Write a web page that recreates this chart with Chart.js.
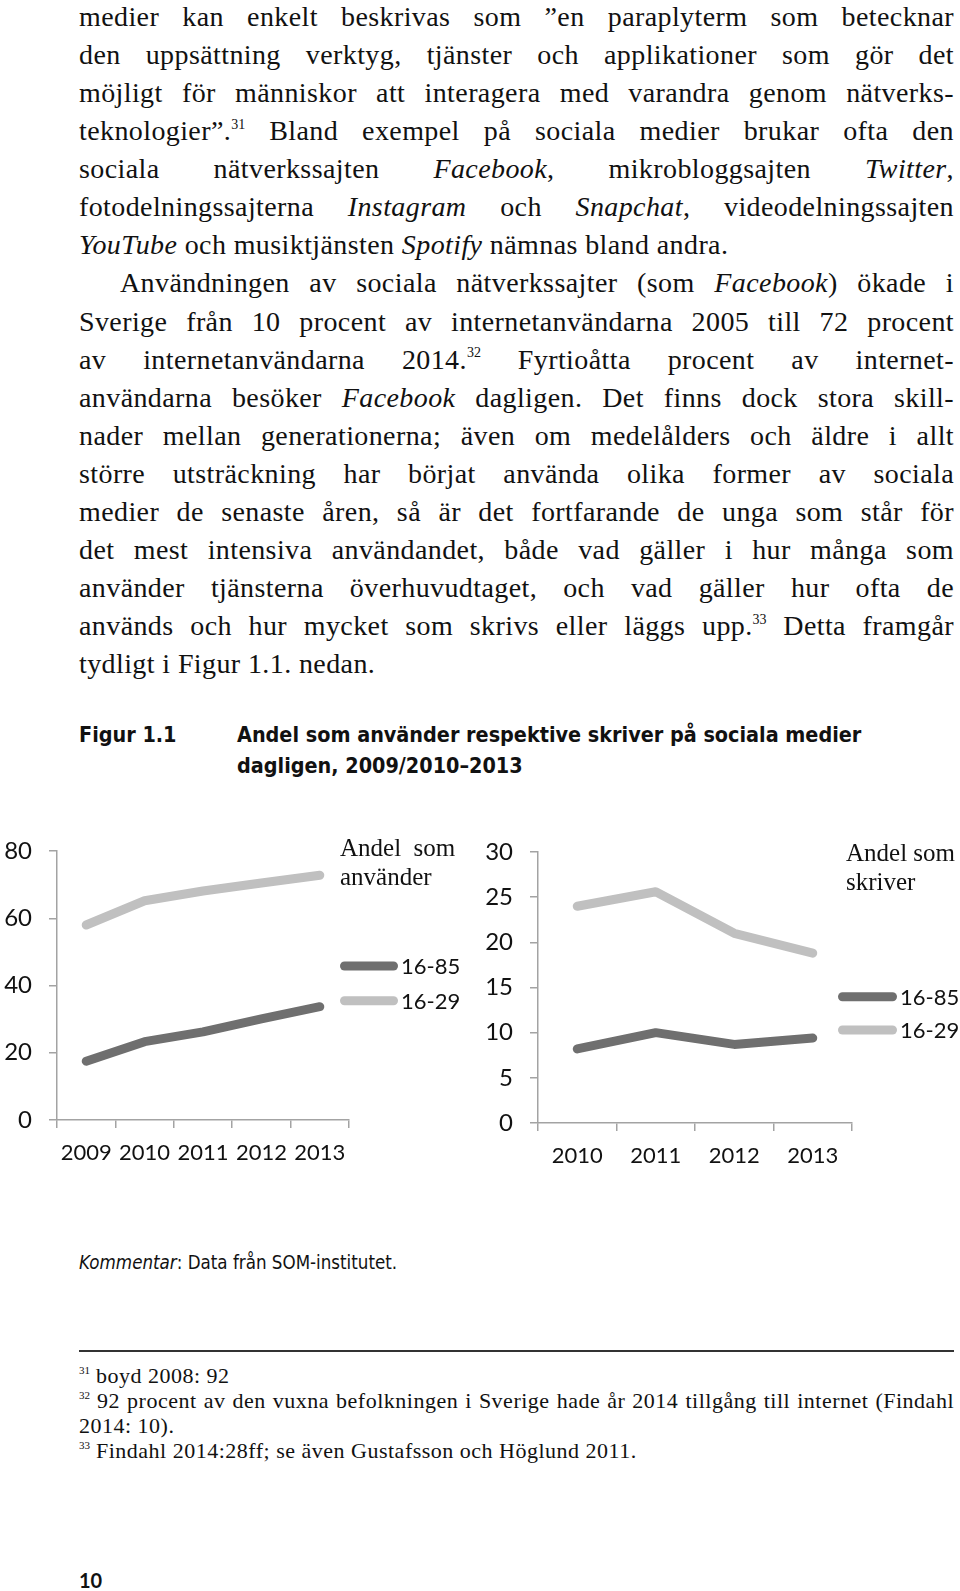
<!DOCTYPE html>
<html lang="sv">
<head>
<meta charset="UTF-8">
<title>Figur 1.1</title>
<script src="https://cdn.jsdelivr.net/npm/chart.js"></script>
<style>
  html, body { margin: 0; padding: 0; background: #fff; }
  body { width: 960px; height: 1591px; position: relative; overflow: hidden; color: #111; }
  .text { position: absolute; left: 79px; width: 875px; font-family: "Liberation Serif", serif; }
  .main { top: -2px; font-size: 28px; letter-spacing: 0.4px; line-height: 38.06px; }
  .l { text-align: justify; text-align-last: justify; }
  .l.last { text-align-last: left; }
  .ind { padding-left: 41px; }
  sup { font-size: 0.5em; line-height: 0; vertical-align: 0; position: relative; top: -0.8em; letter-spacing: 0; }
  .cap { position: absolute; font-family: "DejaVu Sans Condensed", "DejaVu Sans", sans-serif; font-weight: bold; font-size: 21.4px; line-height: 31px; top: 719px; }
  .comment { position: absolute; left: 79px; top: 1251px; font-family: "DejaVu Sans Condensed", "DejaVu Sans", sans-serif; font-size: 18.6px; line-height: 24px; }
  .rule { position: absolute; left: 79px; width: 875px; top: 1350px; height: 1.5px; background: #333; }
  .notes { top: 1363px; font-size: 22px; letter-spacing: 0.5px; line-height: 25px; }
  .pagenum { position: absolute; left: 79px; top: 1568px; font-family: Lato, sans-serif; font-weight: bold; font-size: 20px; line-height: 24px; }
  .box { position: absolute; top: 810px; height: 370px; }
  .tag { position: absolute; font-family: "Liberation Serif", serif; font-size: 25px; line-height: 29px; color: #111; white-space: pre; }
</style>
</head>
<body>

<div class="text main">
  <div class="l">medier kan enkelt beskrivas som ”en paraplyterm som betecknar</div>
  <div class="l">den uppsättning verktyg, tjänster och applikationer som gör det</div>
  <div class="l">möjligt för människor att interagera med varandra genom nätverks-</div>
  <div class="l">teknologier”.<sup>31</sup> Bland exempel på sociala medier brukar ofta den</div>
  <div class="l">sociala nätverkssajten <i>Facebook</i>, mikrobloggsajten <i>Twitter</i>,</div>
  <div class="l">fotodelningssajterna <i>Instagram</i> och <i>Snapchat</i>, videodelningssajten</div>
  <div class="l last"><i>YouTube</i> och musiktjänsten <i>Spotify</i> nämnas bland andra.</div>
  <div class="l ind">Användningen av sociala nätverkssajter (som <i>Facebook</i>) ökade i</div>
  <div class="l">Sverige från 10 procent av internetanvändarna 2005 till 72 procent</div>
  <div class="l">av internetanvändarna 2014.<sup>32</sup> Fyrtioåtta procent av internet-</div>
  <div class="l">användarna besöker <i>Facebook</i> dagligen. Det finns dock stora skill-</div>
  <div class="l">nader mellan generationerna; även om medelålders och äldre i allt</div>
  <div class="l">större utsträckning har börjat använda olika former av sociala</div>
  <div class="l">medier de senaste åren, så är det fortfarande de unga som står för</div>
  <div class="l">det mest intensiva användandet, både vad gäller i hur många som</div>
  <div class="l">använder tjänsterna överhuvudtaget, och vad gäller hur ofta de</div>
  <div class="l">används och hur mycket som skrivs eller läggs upp.<sup>33</sup> Detta framgår</div>
  <div class="l last">tydligt i Figur 1.1. nedan.</div>
</div>

<div class="cap" style="left:79px">Figur 1.1</div>
<div class="cap" style="left:237px">Andel som använder respektive skriver på sociala medier<br>dagligen, 2009/2010–2013</div>

<div class="box" style="left:0; width:470px"><canvas id="useChart"></canvas></div>
<div class="box" style="left:470px; width:490px"><canvas id="writeChart"></canvas></div>
<div class="tag" style="left:340px; top:833px">Andel  som
använder</div>
<div class="tag" style="left:846px; top:838px">Andel som
skriver</div>

<div class="comment"><i>Kommentar</i>: Data från SOM-institutet.</div>

<div class="rule"></div>
<div class="text notes">
  <div class="l last"><sup>31</sup> boyd 2008: 92</div>
  <div class="l"><sup>32</sup> 92 procent av den vuxna befolkningen i Sverige hade år 2014 tillgång till internet (Findahl</div>
  <div class="l last">2014: 10).</div>
  <div class="l last"><sup>33</sup> Findahl 2014:28ff; se även Gustafsson och Höglund 2011.</div>
</div>

<div class="pagenum">10</div>

<script>
  // left chart: share who use social media daily
  const useYears = ['2009', '2010', '2011', '2012', '2013'];
  const use1685 = [17.5, 23.3, 26.2, 30.1, 33.7];
  const use1629 = [58, 65.2, 68.1, 70.5, 72.8];
  const useMax = 80, useStep = 20;

  // right chart: share who write on social media daily
  const writeYears = ['2010', '2011', '2012', '2013'];
  const write1685 = [8.2, 10, 8.7, 9.4];
  const write1629 = [24, 25.6, 21, 18.8];
  const writeMax = 30, writeStep = 5;

  const seriesNames = ['16-85', '16-29'];
  const darkGrey = '#6f6f6f';
  const lightGrey = '#c0c0c0';
  const axisGrey = '#a3a3a3';

  // squeeze any justified line that would wrap
  document.querySelectorAll('.l').forEach(el => {
    const lh = parseFloat(getComputedStyle(el).lineHeight);
    let ls = parseFloat(getComputedStyle(el).letterSpacing) || 0;
    while (el.scrollHeight > lh * 1.4 && ls > -3) {
      ls -= 0.1;
      el.style.letterSpacing = ls + 'px';
    }
  });

  Chart.defaults.font.family = 'Lato';
  Chart.defaults.color = '#111';

  // legend drawn as thick line samples next to the plot
  const lineLegend = {
    id: 'lineLegend',
    afterDraw(chart, args, opts) {
      const ctx = chart.ctx;
      ctx.save();
      chart.data.datasets.forEach((ds, i) => {
        const y = opts.y + i * opts.gap;
        const half = ds.borderWidth / 2;
        ctx.strokeStyle = ds.borderColor;
        ctx.lineWidth = ds.borderWidth;
        ctx.lineCap = 'round';
        ctx.beginPath();
        ctx.moveTo(opts.x + half, y);
        ctx.lineTo(opts.x + opts.len - half, y);
        ctx.stroke();
        ctx.fillStyle = '#111';
        ctx.font = '22px Lato';
        ctx.textBaseline = 'middle';
        ctx.fillText(ds.label, opts.x + opts.len + 3, y + 1);
      });
      ctx.restore();
    }
  };

  function makeChart(id, labels, dark, light, max, step, yWidth, xHeight, padding, legend) {
    const dataset = (label, data, color) => ({
      label: label,
      data: data,
      borderColor: color,
      backgroundColor: color,
      borderWidth: 9,
      borderCapStyle: 'round',
      borderJoinStyle: 'round',
      pointRadius: 0,
      tension: 0
    });

    return new Chart(document.getElementById(id), {
      type: 'line',
      data: {
        labels: labels,
        datasets: [
          dataset(seriesNames[0], dark, darkGrey),
          dataset(seriesNames[1], light, lightGrey)
        ]
      },
      options: {
        responsive: true,
        maintainAspectRatio: false,
        animation: false,
        layout: { padding: padding },
        plugins: {
          legend: { display: false },
          tooltip: { enabled: false },
          lineLegend: legend
        },
        scales: {
          x: {
            offset: true,
            grid: { offset: true, drawOnChartArea: false, tickLength: 8, color: axisGrey, lineWidth: 1.5 },
            border: { color: axisGrey, width: 1.5 },
            ticks: { font: { size: 22 }, padding: 12, maxRotation: 0 },
            afterFit: s => { s.height = xHeight; }
          },
          y: {
            min: 0,
            max: max,
            grid: { drawOnChartArea: false, tickLength: 8, color: axisGrey, lineWidth: 1.5 },
            border: { color: axisGrey, width: 1.5 },
            ticks: { stepSize: step, font: { size: 24 }, padding: 17 },
            afterFit: s => { s.width = yWidth; }
          }
        }
      },
      plugins: [lineLegend]
    });
  }

  makeChart('useChart', useYears, use1685, use1629, useMax, useStep, 57, 60,
    { left: 0, top: 41, right: 121, bottom: 0 },
    { x: 340, y: 156, gap: 34.7, len: 58 });

  makeChart('writeChart', writeYears, write1685, write1629, writeMax, writeStep, 68, 57,
    { left: 0, top: 42, right: 108, bottom: 0 },
    { x: 368, y: 186.7, gap: 33.3, len: 59 });
</script>
</body>
</html>
